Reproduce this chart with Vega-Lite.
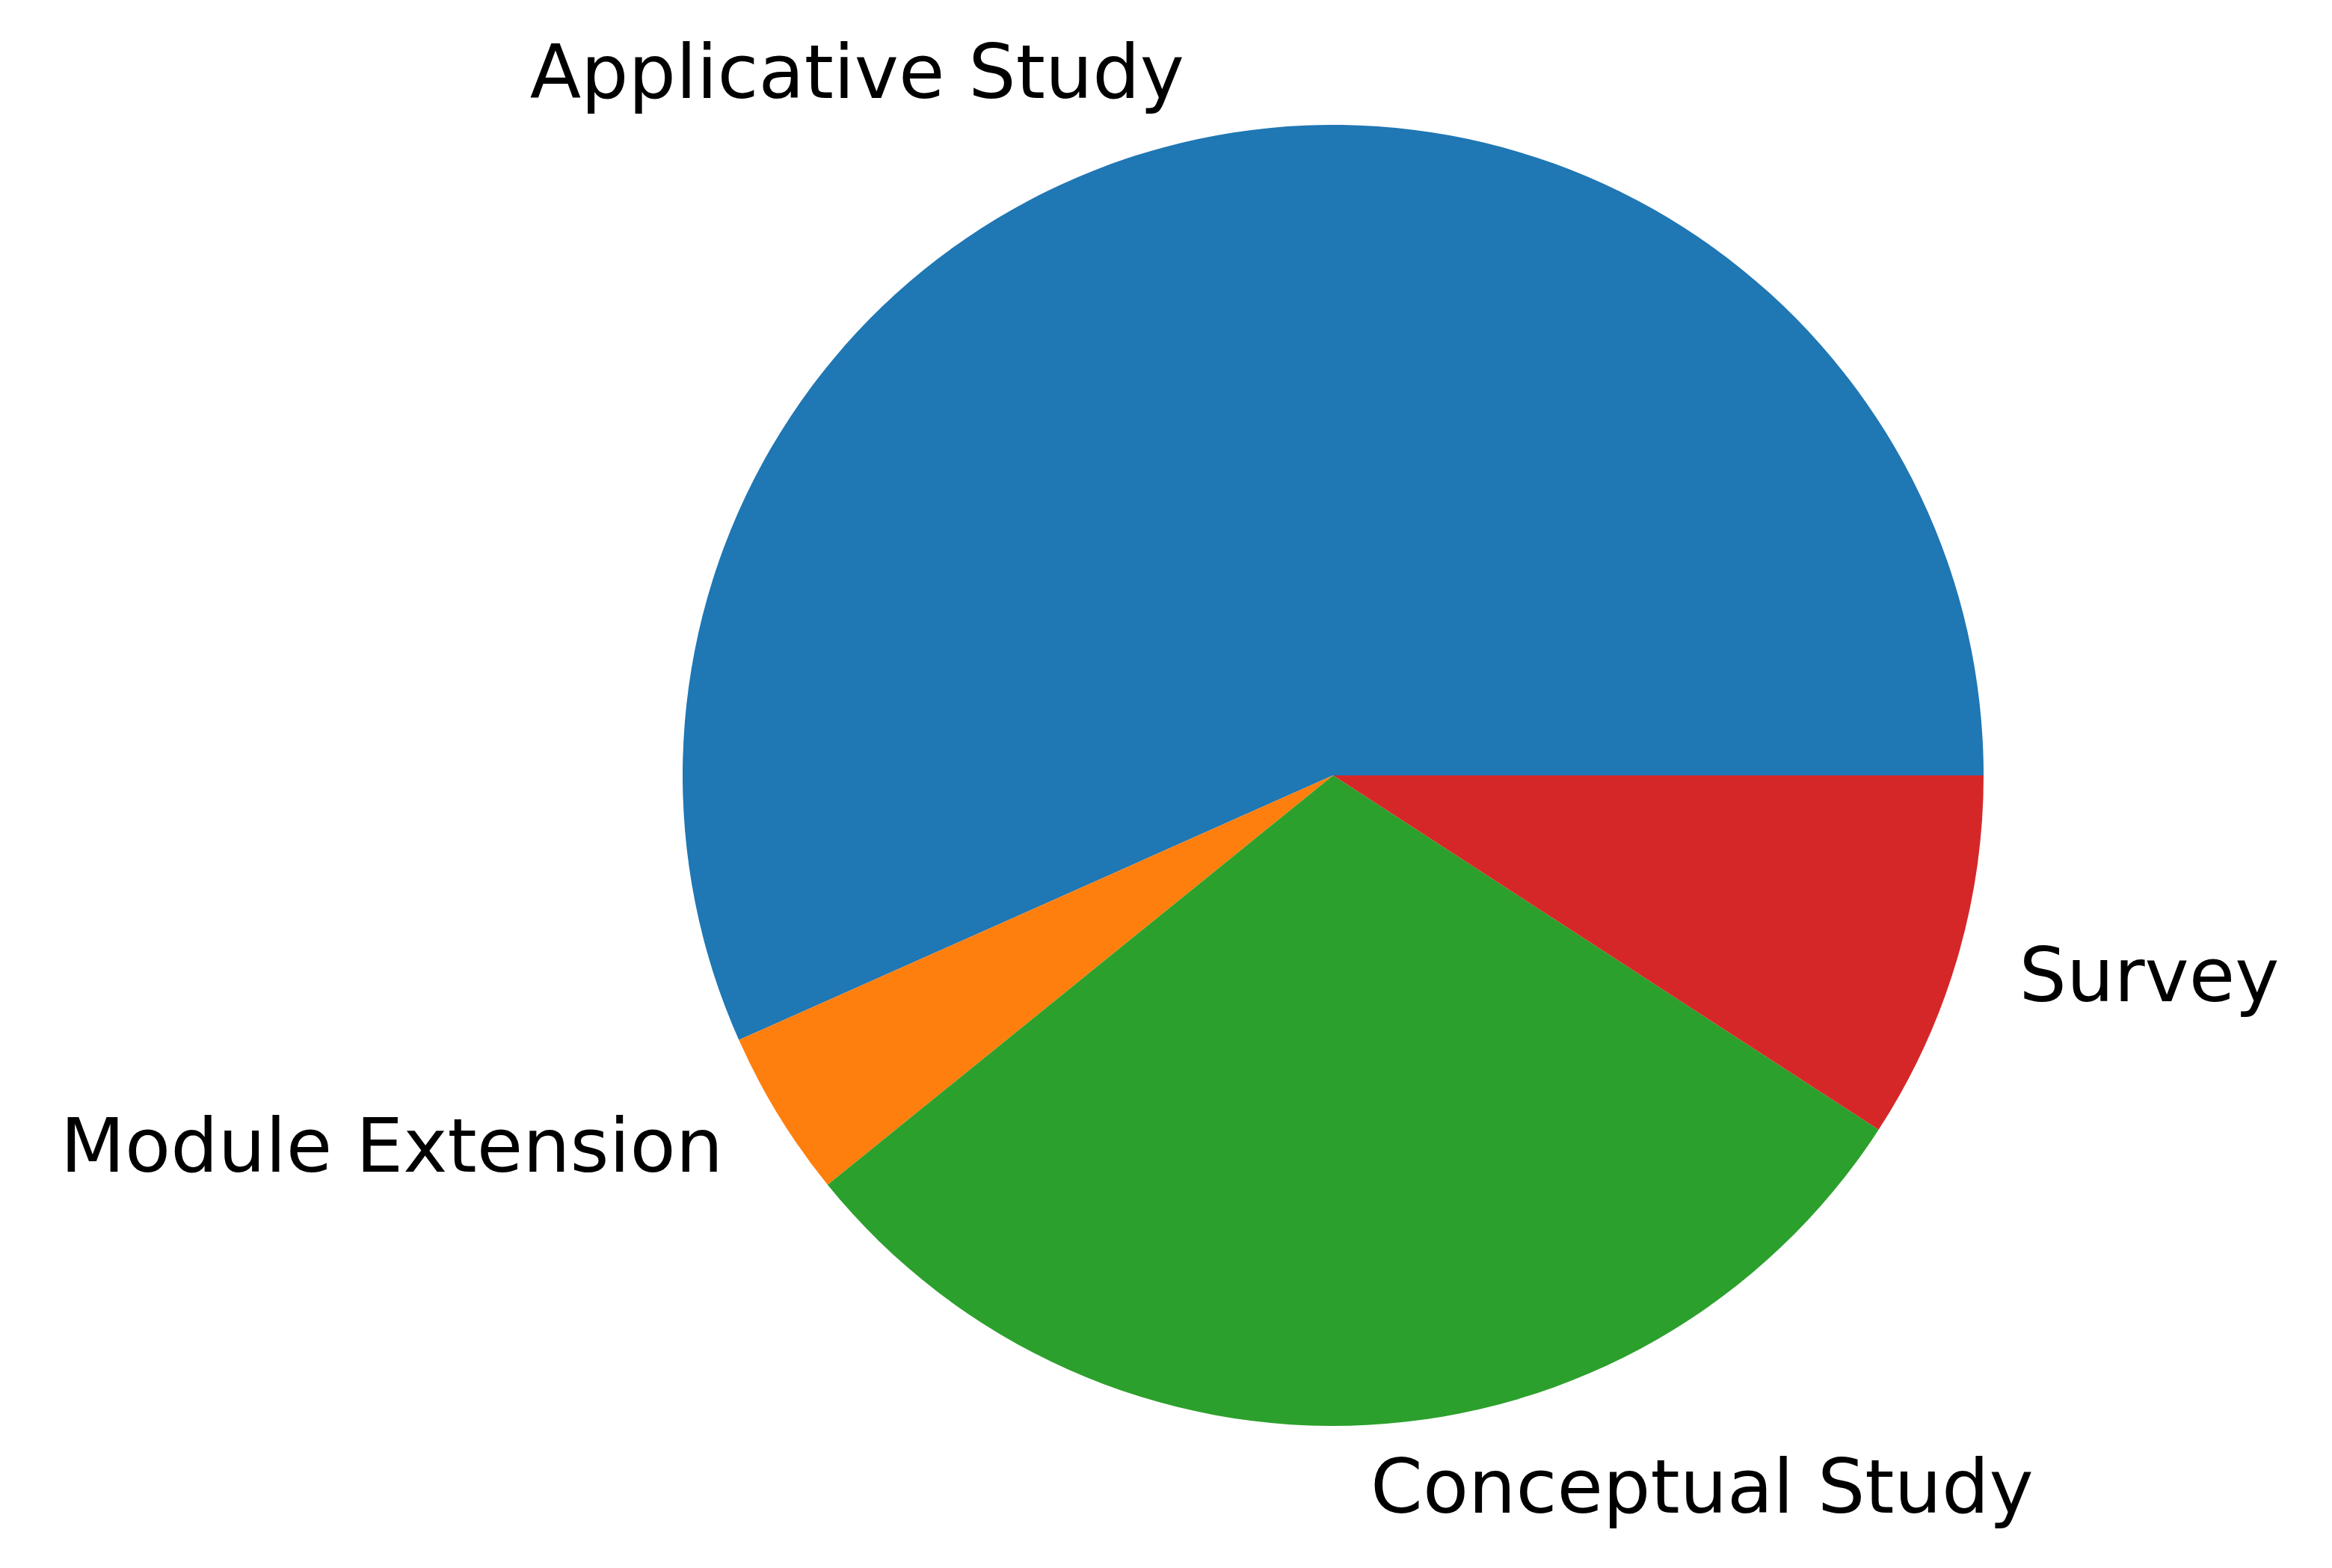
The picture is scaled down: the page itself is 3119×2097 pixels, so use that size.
{
  "$schema": "https://vega.github.io/schema/vega-lite/v6.json",
  "width": 2000,
  "height": 2000,
  "autosize": {"type": "none"},
  "padding": {"left": 783, "top": 37, "right": 336, "bottom": 60},
  "background": "white",
  "config": {"view": {"stroke": null}},
  "data": {
    "values": [
      {"label": "Applicative Study", "value": 68, "idx": 1},
      {"label": "Module Extension", "value": 5, "idx": 2},
      {"label": "Conceptual Study", "value": 36, "idx": 3},
      {"label": "Survey", "value": 11, "idx": 4}
    ]
  },
  "encoding": {
    "theta": {"field": "value", "type": "quantitative", "stack": true, "scale": {"range": [1.5707963, -4.712389]}},
    "order": {"field": "idx", "type": "quantitative"}
  },
  "layer": [
    {
      "mark": {"type": "arc", "outerRadius": 870},
      "encoding": {
        "color": {
          "field": "label",
          "type": "nominal",
          "legend": null,
          "scale": {
            "domain": ["Applicative Study", "Module Extension", "Conceptual Study", "Survey"],
            "range": ["#1f77b4", "#ff7f0e", "#2ca02c", "#d62728"]
          }
        }
      }
    },
    {
      "mark": {
        "type": "text",
        "radius": 957,
        "font": "DejaVu Sans",
        "fontSize": 100,
        "color": "black",
        "baseline": "middle",
        "align": {"expr": "datum.label === 'Survey' || datum.label === 'Conceptual Study' ? 'left' : 'right'"}
      },
      "encoding": {
        "text": {"field": "label", "type": "nominal"}
      }
    }
  ]
}
